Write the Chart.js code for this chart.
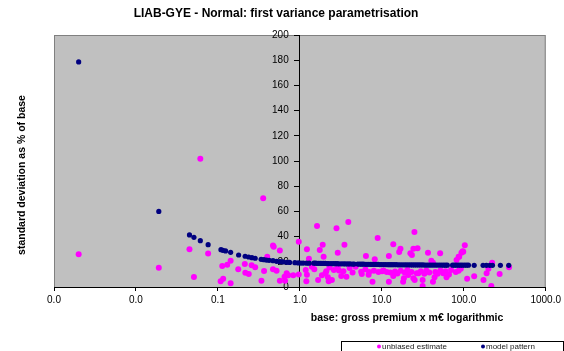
<!DOCTYPE html>
<html>
<head>
<meta charset="utf-8">
<script src="https://cdn.jsdelivr.net/npm/chart.js@4/dist/chart.umd.min.js"></script>
<style>
  body { margin: 0; background: #fff; }
  canvas { display: block; }
</style>
</head>
<body>
<canvas id="myChart" width="564" height="351"></canvas>
<script>
const chartTitle = 'LIAB-GYE - Normal: first variance parametrisation';
const xTitle = 'base: gross premium x m€ logarithmic';
const yTitle = 'standard deviation as % of base';
const xTicks = [0.001, 0.01, 0.1, 1, 10, 100, 1000];

// unbiased estimate (magenta)
const estX = [0.002, 0.019, 0.045, 0.051, 0.061, 0.076, 0.108, 0.113, 0.116, 0.13, 0.143, 0.143,
  0.177, 0.213, 0.216, 0.238, 0.258, 0.285, 0.34, 0.357, 0.366, 0.4, 0.47, 0.47, 0.48, 0.52, 0.57, 0.57,
  0.65, 0.66, 0.69, 0.72, 0.83, 0.97, 0.97, 1.18, 1.2, 1.22, 1.22, 1.29, 1.4, 1.5, 1.62, 1.67, 1.75,
  1.86, 1.9, 1.95, 2.05, 2.1, 2.2, 2.25, 2.3, 2.46, 2.6, 2.8, 2.9, 2.9, 3.0, 3.2, 3.4, 3.5, 3.7, 3.9,
  4.05, 4.4, 4.8, 5.6, 5.7, 6.3, 6.4, 6.9, 7.0, 7.7, 8.0, 8.2, 8.9, 9.1, 10.1, 10.5, 11.5, 12.2, 12.2,
  12.7, 13.8, 13.8, 14.5, 15.5, 16.3, 16.9, 17, 18.2, 18.6, 19, 20.5, 21, 22.3, 23, 23.3, 24.3, 24.3,
  25, 25.2, 26.7, 27.3, 28, 30, 31.5, 31.5, 33, 35, 36.6, 38, 40.2, 42.1, 42.1, 44, 45, 48, 51.5, 52,
  56, 60, 61.6, 66, 70, 80, 81.7, 86.5, 86.5, 88, 92, 93.7, 97, 98.6, 103, 110, 134, 174, 190, 200,
  217, 222, 274, 357];
const estY = [26, 15.3, 29.9, 7.9, 101.8, 26.5, 4.5, 16.7, 6.6, 17.7, 20.9, 2.9,
  14, 18.3, 11.4, 10.3, 17.2, 15.6, 5, 70.4, 12.7, 24, 33, 14, 32, 12.9, 29, 5,
  8.2, 5, 10.9, 9.3, 9.3, 36, 10, 13.5, 4.5, 9.8, 29.9, 22.5, 16, 14, 48.4, 5.6, 29.4,
  9.3, 33.6, 24, 10.9, 12.5, 7.7, 4.5, 15.5, 5.6, 13.5, 46.6, 27.2, 16.1, 13, 8.7, 12.5, 33.6, 8.2, 51.6,
  15.1, 11.5, 16, 12.1, 10.3, 14, 24.6, 9.8, 11.9, 4.2, 12.9, 22, 38.9, 11.9, 12.5, 13, 12, 24.6, 4.2,
  11.5, 33.9, 8.7, 12.4, 10.8, 27.8, 30.4, 12.8, 4.2, 6.9, 11.5, 13.5, 9.5, 26.7, 12, 25.4, 30.4, 6.9,
  43.7, 5.6, 10.9, 30.7, 11, 12.5, 5.6, 0.8, 10.5, 13, 27.2, 11.5, 20.9, 19.3, 4.2, 7.7, 12, 10.5, 26.7, 13,
  11, 12.5, 7.7, 10, 13.5, 11.9, 21.4, 24, 12.9, 24, 14.5, 27.2, 28.3, 28, 33.1, 6.6, 8.5, 5.6, 10.9, 14.5,
  0.8, 19.3, 10.3, 15.6];

// model pattern (navy)
const modelX = [0.002, 0.019, 0.045, 0.051, 0.061, 0.076, 0.109, 0.115, 0.124, 0.143, 0.179, 0.215,
  0.237, 0.26, 0.285, 0.337, 0.364, 0.392, 0.422, 0.47, 0.52, 0.57, 0.62, 0.69, 0.75, 0.87, 0.955, 1.03,
  1.1, 1.21, 1.3, 1.48, 1.55, 1.62, 1.7, 1.78, 1.86, 1.95, 2.05, 2.15, 2.25, 2.4, 2.55, 2.7, 2.85, 3.0,
  3.2, 3.4, 3.6, 3.85, 4.1, 4.4, 4.6, 5.1, 5.4, 5.7, 6.0, 6.4, 6.8, 7.2, 7.6, 8.0, 8.5, 9.0, 9.5, 10.0,
  10.6, 11.2, 11.9, 12.6, 13.3, 14.1, 15.0, 15.9, 16.8, 17.8, 18.9, 20.0, 21.2, 22.5, 23.8, 25.2, 26.7,
  28.3, 30.0, 31.8, 33.7, 35.7, 37.8, 40.0, 42.4, 45.0, 47.6, 50.5, 53.5, 56.7, 60.0, 63.0, 73, 77, 81,
  86, 91, 96, 102, 108, 114, 134, 172, 189, 208, 224, 280, 354];
const modelY = [178.6, 60, 41.3, 39.4, 36.8, 33.6, 29.6, 29.1, 28.6, 27.5, 25.4, 24.4,
  23.8, 23.3, 22.8, 22.0, 21.7, 21.4, 21.2, 20.9, 20.4, 20.1, 19.9, 19.6, 19.5, 19.3, 19.1, 19.0,
  19.0, 18.9, 18.9, 18.9, 18.9, 18.8, 18.8, 18.8, 18.7, 18.7, 18.7, 18.6, 18.6, 18.6, 18.5, 18.5, 18.5, 18.4,
  18.4, 18.4, 18.3, 18.3, 18.3, 18.2, 18.2, 18.2, 18.1, 18.1, 18.1, 18.0, 18.0, 18.0, 17.9, 17.9, 17.9, 17.9, 17.8, 17.8,
  17.8, 17.8, 17.7, 17.7, 17.7, 17.7, 17.7, 17.6, 17.6, 17.6, 17.6, 17.6, 17.6, 17.5, 17.5, 17.5, 17.5,
  17.5, 17.5, 17.5, 17.4, 17.4, 17.4, 17.4, 17.4, 17.4, 17.4, 17.4, 17.4, 17.3, 17.3, 17.3, 17.3, 17.3, 17.3,
  17.3, 17.3, 17.3, 17.3, 17.3, 17.3, 17.2, 17.2, 17.2, 17.2, 17.2, 17.2, 17.2];

const FONT = "'Liberation Sans', Arial, sans-serif";

function toPoints(xs, ys) {
  return xs.map((x, i) => ({x: x, y: ys[i]}));
}

// gray plot area, border, titles and the boxed legend like the excel chart
const excelLook = {
  id: 'excelLook',
  beforeDraw(chart) {
    const {ctx, chartArea: a} = chart;
    ctx.save();
    ctx.fillStyle = '#c0c0c0';
    ctx.fillRect(a.left, a.top, a.right - a.left, a.bottom - a.top);
    ctx.strokeStyle = '#808080';
    ctx.lineWidth = 1;
    ctx.strokeRect(a.left + 0.5, a.top + 0.5, a.right - a.left - 1, a.bottom - a.top);
    ctx.restore();
  },
  afterDraw(chart) {
    const ctx = chart.ctx;
    ctx.save();
    ctx.fillStyle = '#000';
    ctx.textAlign = 'center';
    ctx.textBaseline = 'middle';
    ctx.font = 'bold 12px ' + FONT;
    ctx.fillText(chartTitle, 276, 14);
    ctx.font = 'bold 10.5px ' + FONT;
    ctx.fillText(xTitle, 407, 318);
    ctx.save();
    ctx.translate(22, 175);
    ctx.rotate(-Math.PI / 2);
    ctx.fillText(yTitle, 0, 0);
    ctx.restore();

    // legend box
    ctx.strokeStyle = '#000';
    ctx.strokeRect(341.5, 341.5, 222, 14);
    ctx.font = '8px ' + FONT;
    ctx.textAlign = 'left';
    const items = [{ds: chart.data.datasets[0], x: 379}, {ds: chart.data.datasets[1], x: 483}];
    items.forEach(it => {
      ctx.fillStyle = it.ds.backgroundColor;
      ctx.beginPath();
      ctx.arc(it.x, 346.5, 2, 0, Math.PI * 2);
      ctx.fill();
      ctx.fillStyle = '#222';
      ctx.fillText(it.ds.label, it.x + 3, 346.5);
    });
    ctx.restore();
  }
};

const ctx = document.getElementById('myChart').getContext('2d');
const myChart = new Chart(ctx, {
  type: 'scatter',
  data: {
    datasets: [{
      label: 'unbiased estimate',
      data: toPoints(estX, estY),
      backgroundColor: '#ff00ff',
      borderWidth: 0,
      pointRadius: 3,
      order: 1
    }, {
      label: 'model pattern',
      data: toPoints(modelX, modelY),
      backgroundColor: '#000080',
      borderWidth: 0,
      pointRadius: 2.6,
      order: 0
    }]
  },
  options: {
    responsive: false,
    animation: false,
    layout: {padding: {left: 54, right: 18, top: 35, bottom: 0}},
    plugins: {
      legend: {display: false},
      title: {display: false},
      tooltip: {enabled: false}
    },
    scales: {
      x: {
        type: 'logarithmic',
        position: 'bottom',
        min: 0.001,
        max: 1000,
        afterBuildTicks: s => { s.ticks = xTicks.map(v => ({value: v})); },
        afterFit: s => { s.height = 64; },
        ticks: {
          callback: v => Number(v).toFixed(1),
          font: {size: 10, family: FONT},
          color: '#000',
          maxRotation: 0,
          autoSkip: false,
          padding: 3
        },
        grid: {drawOnChartArea: false, tickLength: 4, color: '#000'},
        border: {color: '#000'}
      },
      y: {
        type: 'linear',
        position: {x: 1},
        min: 0,
        max: 200,
        ticks: {
          stepSize: 20,
          // labels sit right-aligned on the axis line, push them left of the tick marks
          callback: v => v + '    ',
          font: {size: 10, family: FONT},
          color: '#000'
        },
        grid: {drawOnChartArea: false, tickLength: 5, color: '#000'},
        border: {color: '#000'}
      }
    }
  },
  plugins: [excelLook]
});
</script>
</body>
</html>
